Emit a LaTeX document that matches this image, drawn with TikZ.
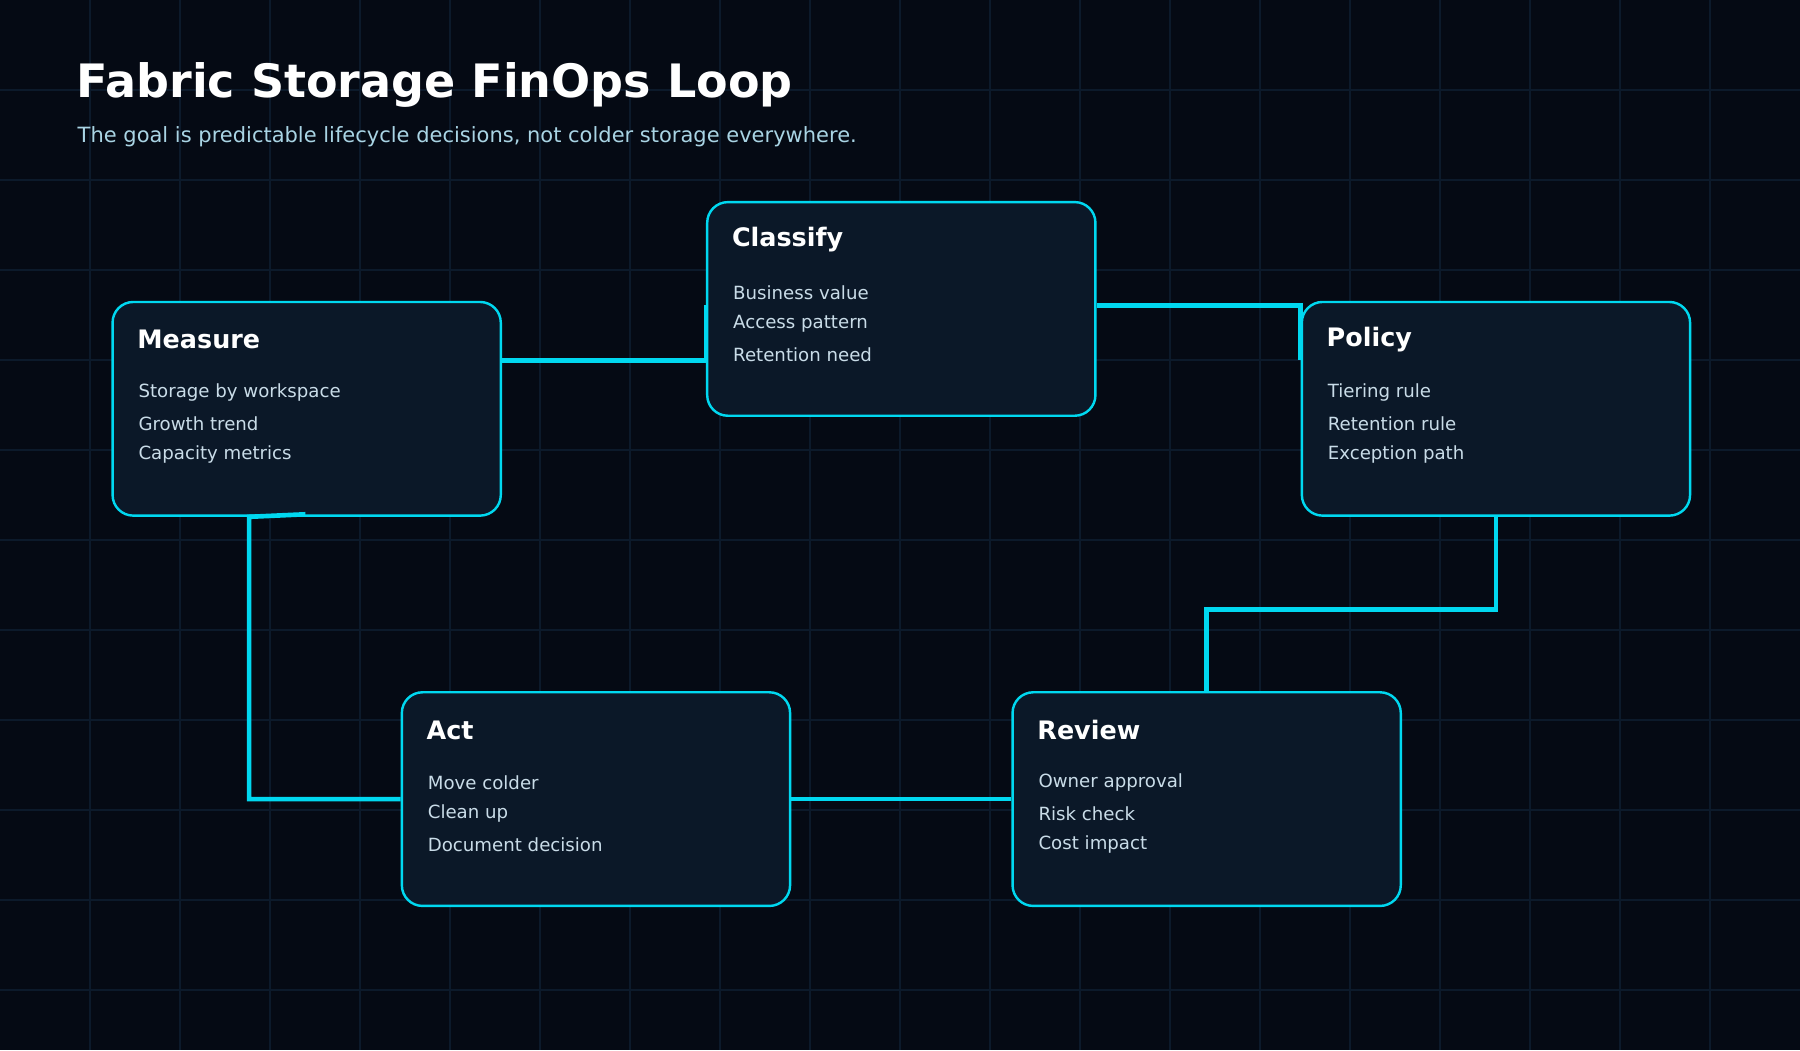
\documentclass[tikz,border=0pt]{standalone}
\usepackage{fontspec}
\setmainfont{DejaVu Sans}
\usetikzlibrary{positioning,calc}
\definecolor{bgcol}{HTML}{050A14}
\definecolor{gridcol}{HTML}{0C1A2B}
\definecolor{boxcol}{HTML}{0B1828}
\definecolor{cyancol}{HTML}{00D8F0}
\definecolor{subcol}{HTML}{A9D4E4}
\definecolor{itemcol}{HTML}{C9DCE8}
\newcommand{\boxw}{3.38cm}
\newcommand{\boxh}{1.86cm}
\tikzset{
    stepsty/.style={draw=cyancol,line width=0.6pt,fill=boxcol,rounded corners=0.18cm,
                    minimum width=\boxw,minimum height=\boxh,anchor=north west,inner sep=0pt},
    headsty/.style={anchor=west,inner sep=0pt,text=white,font=\bfseries\fontsize{6.3}{7}\selectfont},
    itemsty/.style={anchor=west,inner sep=0pt,text=itemcol,font=\fontsize{4.5}{5}\selectfont},
    linksty/.style={draw=cyancol,line width=1.15pt},
}
\begin{document}
\begin{tikzpicture}[x=0.01cm,y=-0.01cm]
  \fill[bgcol] (0,0) rectangle (1568,915);
  \useasboundingbox (0,0) rectangle (1568,915);
  % background grid
  \foreach \i in {1,...,19} \draw[gridcol,line width=0.25pt] (78.4*\i,0) -- (78.4*\i,915);
  \foreach \j in {1,...,11} \draw[gridcol,line width=0.25pt] (0,78.4*\j) -- (1568,78.4*\j);

  \node[anchor=west,inner sep=0pt,text=white,font=\bfseries\fontsize{11.4}{13}\selectfont] (title) at (66,74) {Fabric Storage FinOps Loop};
  \node[anchor=west,inner sep=0pt,text=subcol,font=\fontsize{5.2}{6}\selectfont] (subtitle) at (67,119) {The goal is predictable lifecycle decisions, not colder storage everywhere.};

  % steps
  \foreach \nm/\x/\y/\hd/\a/\b/\c in {
      measure/97/262/Measure/Storage by workspace/Growth trend/Capacity metrics,
      classify/615/175/Classify/Business value/Access pattern/Retention need,
      policy/1133/262/Policy/Tiering rule/Retention rule/Exception path,
      act/349/602/Act/Move colder/Clean up/Document decision,
      review/881/602/Review/Owner approval/Risk check/Cost impact}
  {
    \node[stepsty] (\nm) at (\x,\y) {};
    \node[headsty] (\nm-head) at ($(\nm.north west)+(22,34)$) {\hd};
    \node[itemsty] (\nm-a) at ($(\nm.north west)+(23,80)$) {\a};
    \node[itemsty] (\nm-b) at ($(\nm.north west)+(23,107)$) {\b};
    \node[itemsty] (\nm-c) at ($(\nm.north west)+(23,134)$) {\c};
  }

  % connectors
  \coordinate (mc) at (531,0);
  \coordinate (cp) at (1042,0);
  \coordinate (pr) at (0,531);
  \coordinate (am) at (217,0);
  \coordinate (mend) at (266,448);
  \draw[linksty] ($(measure.north east)+(0,52)$) -| ($(classify.north west)+(0,91)$ -| mc) -- ($(classify.north west)+(0,91)$);
  \draw[linksty] ($(classify.north east)+(0,91)$) -| ($(policy.north west)+(0,52)$ -| cp) -- ($(policy.north west)+(0,52)$);
  \draw[linksty] (policy.south) |- (pr -| review.north) -- (review.north);
  \draw[linksty] (review.west) -- (act.east);
  \draw[linksty] (act.west) -| (am |- measure.south) -- (mend);
\end{tikzpicture}
\end{document}
